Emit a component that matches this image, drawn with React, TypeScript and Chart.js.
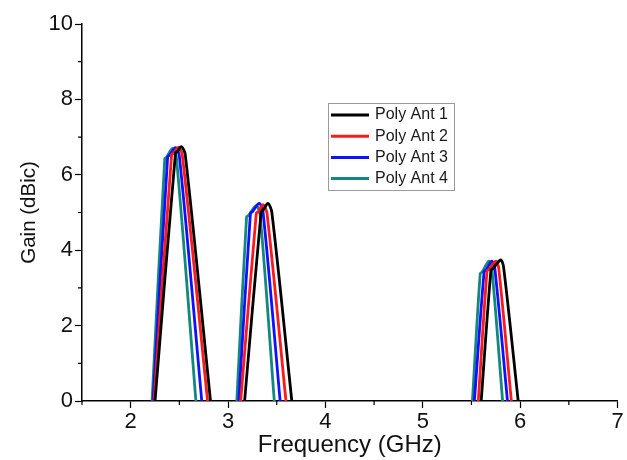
import React, { useEffect, useRef } from "react";
import { Chart, registerables } from "chart.js";

Chart.register(...registerables);

// Series data: null separates the three bands
const seriesLabels = ["Poly Ant 1", "Poly Ant 2", "Poly Ant 3", "Poly Ant 4"];
const seriesColors = ["#000000", "#ff1a1a", "#1010ff", "#14877f"];

const ant1Freq = [2.25, 2.46, 2.48, 2.52, 2.56, 2.82, null, 3.17, 3.34, 3.36, 3.41, 3.45, 3.655, null, 5.6, 5.7, 5.72, 5.8, 5.83, 5.98];
const ant1Gain = [0, 6.58, 6.62, 6.75, 6.55, 0, null, 0, 5.02, 5.06, 5.24, 5.0, 0, null, 0, 3.47, 3.51, 3.74, 3.55, 0];

const ant2Freq = [2.24, 2.42, 2.44, 2.49, 2.53, 2.79, null, 3.13, 3.29, 3.31, 3.36, 3.4, 3.595, null, 5.57, 5.66, 5.68, 5.75, 5.78, 5.91];
const ant2Gain = [0, 6.53, 6.57, 6.73, 6.53, 0, null, 0, 4.98, 5.02, 5.21, 4.98, 0, null, 0, 3.45, 3.49, 3.71, 3.52, 0];

const ant3Freq = [2.23, 2.38, 2.4, 2.46, 2.5, 2.73, null, 3.11, 3.23, 3.25, 3.32, 3.36, 3.535, null, 5.53, 5.63, 5.65, 5.71, 5.74, 5.87];
const ant3Gain = [0, 6.48, 6.52, 6.72, 6.5, 0, null, 0, 4.98, 5.02, 5.24, 5.0, 0, null, 0, 3.43, 3.47, 3.71, 3.52, 0];

const ant4Freq = [2.22, 2.35, 2.37, 2.43, 2.47, 2.67, null, 3.09, 3.19, 3.21, 3.29, 3.33, 3.475, null, 5.51, 5.59, 5.61, 5.68, 5.71, 5.82];
const ant4Gain = [0, 6.43, 6.47, 6.7, 6.45, 0, null, 0, 4.88, 4.92, 5.18, 4.92, 0, null, 0, 3.38, 3.42, 3.71, 3.5, 0];

const freqSets = [ant1Freq, ant2Freq, ant3Freq, ant4Freq];
const gainSets = [ant1Gain, ant2Gain, ant3Gain, ant4Gain];

const xMin = 1.5;
const xMax = 7;
const yMin = 0;
const yMax = 10;

const FONT = "'Liberation Sans', Arial, Helvetica, sans-serif";

const minorTicksPlugin = {
  id: "minorTicks",
  afterDraw(chart: any) {
    const ctx = chart.ctx;
    const xs = chart.scales.x;
    const ys = chart.scales.y;
    ctx.save();
    ctx.strokeStyle = "#000";
    ctx.lineWidth = 1.2;
    ctx.beginPath();
    for (let v = xMin; v <= xMax + 1e-9; v += 0.5) {
      if (Math.abs(v - Math.round(v)) < 1e-9) continue;
      const px = xs.getPixelForValue(v);
      ctx.moveTo(px, xs.top);
      ctx.lineTo(px, xs.top + 4);
    }
    for (let v = yMin; v <= yMax + 1e-9; v += 1) {
      if (v % 2 === 0) continue;
      const py = ys.getPixelForValue(v);
      ctx.moveTo(ys.right, py);
      ctx.lineTo(ys.right - 4, py);
    }
    ctx.stroke();
    ctx.restore();
  },
};

const boxLegendPlugin = {
  id: "boxLegend",
  afterDraw(chart: any, _args: any, opts: any) {
    const ctx = chart.ctx;
    const { left, top, width, height, rowGap, lineLen, textGap } = opts;
    ctx.save();
    ctx.strokeStyle = "#9a9a9a";
    ctx.lineWidth = 1;
    ctx.strokeRect(left + 0.5, top + 0.5, width, height);
    ctx.font = `16px ${FONT}`;
    ctx.textBaseline = "middle";
    ctx.textAlign = "left";
    chart.data.datasets.forEach((ds: any, i: number) => {
      const y = top + 12 + i * rowGap;
      ctx.strokeStyle = ds.borderColor;
      ctx.lineWidth = 3;
      ctx.beginPath();
      ctx.moveTo(left + 3, y);
      ctx.lineTo(left + 3 + lineLen, y);
      ctx.stroke();
      ctx.fillStyle = "#1a1a1a";
      ctx.fillText(ds.label, left + 3 + lineLen + textGap, y);
    });
    ctx.restore();
  },
};

export default function App() {
  const canvasRef = useRef<HTMLCanvasElement | null>(null);

  useEffect(() => {
    if (!canvasRef.current) return;
    const datasets = seriesLabels.map((label, i) => ({
      label,
      data: freqSets[i].map((f, j) => ({ x: f === null ? NaN : f, y: gainSets[i][j] })),
      borderColor: seriesColors[i],
      backgroundColor: seriesColors[i],
      borderWidth: 2.8,
      borderJoinStyle: "round" as const,
      pointRadius: 0,
      fill: false,
      spanGaps: false,
      tension: 0.3,
    }));

    const chart = new Chart(canvasRef.current, {
      type: "line",
      data: { datasets },
      plugins: [minorTicksPlugin, boxLegendPlugin],
      options: {
        animation: false,
        responsive: false,
        maintainAspectRatio: false,
        layout: { padding: { top: 24, right: 9.5, left: 0, bottom: 0 } },
        plugins: {
          legend: { display: false },
          tooltip: { enabled: false },
          boxLegend: { left: 328, top: 103, width: 126, height: 87, rowGap: 21.2, lineLen: 38, textGap: 6 },
        } as any,
        scales: {
          x: {
            type: "linear",
            min: xMin,
            max: xMax,
            afterFit: (s: any) => { s.height = 59; },
            afterBuildTicks: (s: any) => {
              const t = [];
              for (let v = 2; v <= xMax; v += 1) t.push({ value: v });
              s.ticks = t;
            },
            ticks: {
              color: "#111",
              font: { family: FONT, size: 22 },
              padding: 1,
              maxRotation: 0,
              callback: (v: any) => String(v),
            },
            grid: {
              display: true,
              drawOnChartArea: false,
              drawTicks: true,
              tickLength: 7,
              tickColor: "#000",
              tickWidth: 1.2,
            },
            border: { display: true, color: "#000", width: 1.5 },
            title: {
              display: true,
              text: "Frequency (GHz)",
              color: "#111",
              font: { family: FONT, size: 24 },
              padding: { top: 0, bottom: 0 },
            },
          },
          y: {
            type: "linear",
            min: yMin,
            max: yMax,
            afterFit: (s: any) => { s.width = 82; },
            afterBuildTicks: (s: any) => {
              const t = [];
              for (let v = 0; v <= yMax; v += 2) t.push({ value: v });
              s.ticks = t;
            },
            ticks: {
              color: "#111",
              font: { family: FONT, size: 22 },
              padding: 2,
              callback: (v: any) => String(v),
            },
            grid: {
              display: true,
              drawOnChartArea: false,
              drawTicks: true,
              tickLength: 7,
              tickColor: "#000",
              tickWidth: 1.2,
            },
            border: { display: true, color: "#000", width: 1.5 },
            title: {
              display: true,
              text: "Gain (dBic)",
              color: "#111",
              font: { family: FONT, size: 20.5 },
              padding: { top: 17.5, bottom: 0 },
            },
          },
        },
      },
    });
    return () => chart.destroy();
  }, []);

  return (
    <div style={{ position: "fixed", left: 0, top: 0, width: 627, height: 460, background: "#fff" }}>
      <canvas ref={canvasRef} width={627} height={460} style={{ display: "block", width: 627, height: 460 }} />
    </div>
  );
}
